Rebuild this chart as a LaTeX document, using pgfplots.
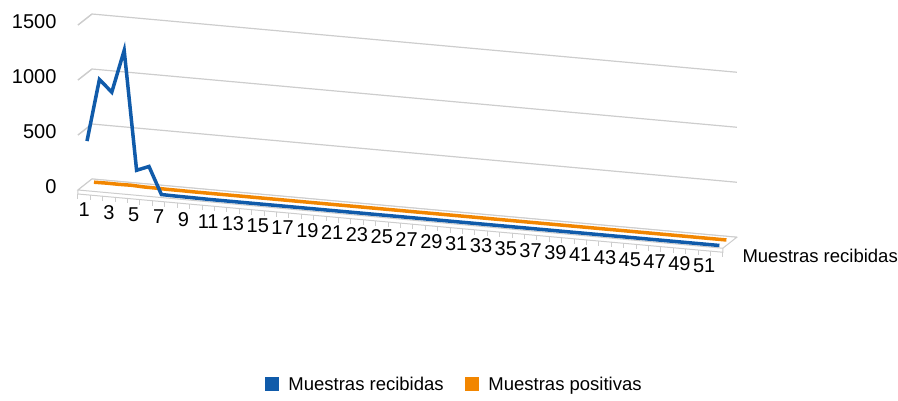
\documentclass[border=0pt]{standalone}
\usepackage{pgfplots}
\pgfplotsset{compat=1.18}
\usepackage{fontspec}
\setmainfont{Liberation Sans}
\definecolor{sblue}{RGB}{16,91,170}
\definecolor{sorange}{RGB}{242,134,0}
\definecolor{gridg}{RGB}{205,205,205}
\begin{document}
\begin{tikzpicture}
\begin{axis}[
  x={(12.4pt,-1.12pt)}, y={(14pt,11pt)}, z={(0pt,0.11pt)},
  xmin=0.5, xmax=52.5, ymin=0, ymax=1, zmin=0, zmax=1500,
  axis line style={draw=none},
  xtick={1,3,...,51}, ytick=\empty, ztick={0,500,1000,1500},
  zmajorgrids, major grid style={gridg, line width=1.2pt},
  tick style={draw=none},
  ticklabel style={font=\fontsize{20}{24}\selectfont},
  xticklabel style={anchor=north, yshift=-9pt},
  zticklabel style={anchor=east, xshift=-18pt, yshift=3pt},
  /pgf/number format/assume math mode=true,
  /pgf/number format/1000 sep={},
  legend columns=2, reverse legend,
  legend style={at={(0.571,-0.58)}, anchor=center, draw=none,
    font=\fontsize{18.5}{22}\selectfont, /tikz/every even column/.append style={column sep=19pt}},
  legend image code/.code={\fill[#1,draw=none] (0pt,-7pt) rectangle (14pt,7pt); \path (20pt,0pt);},
  clip=false,
]
\draw[gridg, line width=1pt, fill=white] (axis cs:0.5,0,0) -- (axis cs:52.5,0,0) -- (axis cs:52.5,1,0) -- (axis cs:0.5,1,0) -- cycle;
\draw[gridg, line width=1pt] (axis cs:0.5,0,0) -- ++(0pt,-4pt) -- ([yshift=-4pt]axis cs:52.5,0,0) -- (axis cs:52.5,0,0);
\pgfplotsinvokeforeach{0.5,1.5,...,52.5}{\draw[gridg, line width=1pt] ([yshift=-4pt]axis cs:#1,0,0) -- ++(0pt,-5pt);}
\pgfplotsinvokeforeach{500,1000,1500}{\draw[gridg, line width=1.2pt] (axis cs:0.5,0,#1) -- (axis cs:0.5,1,#1);}
\coordinate (FL) at (axis cs:0.5,0,0);
\addplot3[sorange, line width=3.5pt] coordinates {
(1,0.7,6) (2,0.7,8) (3,0.7,7) (4,0.7,9) (5,0.7,4) (6,0.7,3) (7,0.7,1) (8,0.7,1) (9,0.7,0) (10,0.7,0)
(11,0.7,0) (12,0.7,0) (13,0.7,0) (14,0.7,0) (15,0.7,0) (16,0.7,0) (17,0.7,0) (18,0.7,0) (19,0.7,0) (20,0.7,0)
(21,0.7,0) (22,0.7,0) (23,0.7,0) (24,0.7,0) (25,0.7,0) (26,0.7,0) (27,0.7,0) (28,0.7,0) (29,0.7,0) (30,0.7,0)
(31,0.7,0) (32,0.7,0) (33,0.7,0) (34,0.7,0) (35,0.7,0) (36,0.7,0) (37,0.7,0) (38,0.7,0) (39,0.7,0) (40,0.7,0)
(41,0.7,0) (42,0.7,0) (43,0.7,0) (44,0.7,0) (45,0.7,0) (46,0.7,0) (47,0.7,0) (48,0.7,0) (49,0.7,0) (50,0.7,0)
(51,0.7,0) (52,0.7,0)};
\addlegendentry{Muestras positivas}
\addplot3[sblue, line width=3.5pt] coordinates {
(1,0.2,430) (2,0.2,1000) (3,0.2,895) (4,0.2,1285) (5,0.2,205) (6,0.2,250) (7,0.2,5) (8,0.2,3) (9,0.2,2) (10,0.2,1)
(11,0.2,0) (12,0.2,0) (13,0.2,0) (14,0.2,0) (15,0.2,0) (16,0.2,0) (17,0.2,0) (18,0.2,0) (19,0.2,0) (20,0.2,0)
(21,0.2,0) (22,0.2,0) (23,0.2,0) (24,0.2,0) (25,0.2,0) (26,0.2,0) (27,0.2,0) (28,0.2,0) (29,0.2,0) (30,0.2,0)
(31,0.2,0) (32,0.2,0) (33,0.2,0) (34,0.2,0) (35,0.2,0) (36,0.2,0) (37,0.2,0) (38,0.2,0) (39,0.2,0) (40,0.2,0)
(41,0.2,0) (42,0.2,0) (43,0.2,0) (44,0.2,0) (45,0.2,0) (46,0.2,0) (47,0.2,0) (48,0.2,0) (49,0.2,0) (50,0.2,0)
(51,0.2,0) (52,0.2,0)};
\addlegendentry{Muestras recibidas}
\node[anchor=west, font=\fontsize{18.5}{22}\selectfont, xshift=12pt, yshift=-11pt] at (axis cs:52.5,0.3,0) {Muestras recibidas};
\end{axis}
\pgfresetboundingbox
\path[use as bounding box] ([shift={(-78pt,190pt)}]FL) rectangle ([shift={(820pt,-210pt)}]FL);
\end{tikzpicture}
\end{document}
